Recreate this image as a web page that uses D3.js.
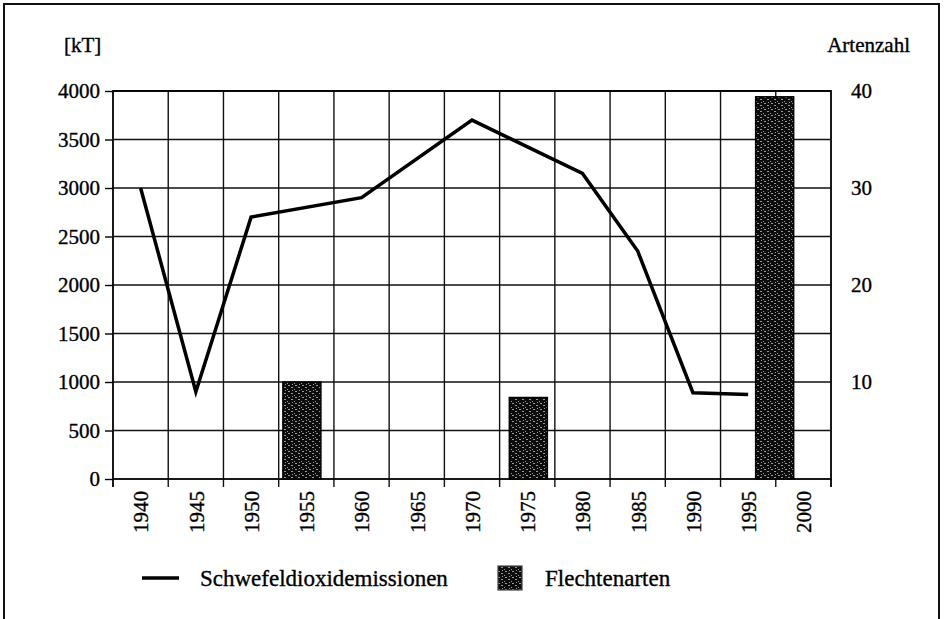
<!DOCTYPE html>
<html>
<head>
<meta charset="utf-8">
<script src="https://cdn.jsdelivr.net/npm/d3@7"></script>
<style>
  body { margin: 0; background: #fff; }
  svg { display: block; }
  svg text { font-family: "Liberation Serif", "Times New Roman", serif; fill: #000; stroke: #000; stroke-width: 0.35px; }
</style>
</head>
<body>
<svg id="chart" width="944" height="619"></svg>
<script>
// ==========
// DATA
// ==========
// category years on the x axis
var years = [1940, 1945, 1950, 1955, 1960, 1965, 1970, 1975, 1980, 1985, 1990, 1995, 2000];

// Schwefeldioxidemissionen [kT], read at the line's corners
var so2Years = [1940, 1945, 1950, 1960, 1970, 1980, 1985, 1990, 1995];
var so2Values = [3000, 900, 2700, 2900, 3700, 3150, 2350, 890, 870];

// Flechtenarten (Artenzahl); bar positions
var lichenYears = [1954.6, 1975.1, 1997.4];
var lichenValues = [10, 8.4, 39.4];

var leftTicks = [0, 500, 1000, 1500, 2000, 2500, 3000, 3500, 4000];
var rightTicks = [10, 20, 30, 40];

// ==========
// MAIN
// ==========
var svg = d3.select("#chart");

var plot = { left: 113, right: 831, top: 91, bottom: 479 };

var x = d3.scaleLinear().domain([1937.5, 2002.5]).range([plot.left, plot.right]);
var yL = d3.scaleLinear().domain([0, 4000]).range([plot.bottom, plot.top]);
var yR = d3.scaleLinear().domain([0, 40]).range([plot.bottom, plot.top]);

// band boundaries between the year categories
var bounds = years.slice(0, -1).map(function (d) { return d + 2.5; });

// speckled fill for the bars
var defs = svg.append("defs");
var pat = defs.append("pattern")
  .attr("id", "speckle")
  .attr("patternUnits", "userSpaceOnUse")
  .attr("width", 7)
  .attr("height", 6);
pat.append("rect").attr("width", 7).attr("height", 6).attr("fill", "#0c0c0c");
[[1, 1, 2, 1], [4, 3, 2, 1], [0, 5, 1, 1], [5, 0, 1, 1]].forEach(function (r) {
  pat.append("rect")
    .attr("x", r[0]).attr("y", r[1]).attr("width", r[2]).attr("height", r[3])
    .attr("fill", "#9a9a9a");
});

// outer frame
svg.append("rect")
  .attr("x", 4).attr("y", 4)
  .attr("width", 935).attr("height", 640)
  .attr("fill", "none")
  .attr("stroke", "#111")
  .attr("stroke-width", 2);

// horizontal grid
svg.append("g")
  .selectAll("line")
  .data(leftTicks.slice(1))
  .enter().append("line")
  .attr("x1", plot.left).attr("x2", plot.right)
  .attr("y1", function (d) { return yL(d); })
  .attr("y2", function (d) { return yL(d); })
  .attr("stroke", "#111")
  .attr("stroke-width", 1.4);

// vertical grid + ticks below the axis
svg.append("g")
  .selectAll("line")
  .data(bounds)
  .enter().append("line")
  .attr("x1", function (d) { return x(d); })
  .attr("x2", function (d) { return x(d); })
  .attr("y1", plot.top)
  .attr("y2", plot.bottom + 8)
  .attr("stroke", "#111")
  .attr("stroke-width", 1.4);

// bars (right axis)
var barW = 38;
svg.append("g")
  .selectAll("rect")
  .data(lichenYears)
  .enter().append("rect")
  .attr("x", function (d) { return x(d) - barW / 2; })
  .attr("y", function (d, i) { return yR(lichenValues[i]); })
  .attr("width", barW)
  .attr("height", function (d, i) { return plot.bottom - yR(lichenValues[i]); })
  .attr("fill", "url(#speckle)")
  .attr("stroke", "#000")
  .attr("stroke-width", 1.5);

// plot border
svg.append("rect")
  .attr("x", plot.left).attr("y", plot.top)
  .attr("width", plot.right - plot.left)
  .attr("height", plot.bottom - plot.top)
  .attr("fill", "none")
  .attr("stroke", "#000")
  .attr("stroke-width", 1.8);

// edge ticks below the axis
svg.append("g")
  .selectAll("line")
  .data([plot.left, plot.right])
  .enter().append("line")
  .attr("x1", function (d) { return d; })
  .attr("x2", function (d) { return d; })
  .attr("y1", plot.bottom)
  .attr("y2", plot.bottom + 8)
  .attr("stroke", "#000")
  .attr("stroke-width", 1.8);

// SO2 line
var line = d3.line()
  .x(function (d) { return x(d[0]); })
  .y(function (d) { return yL(d[1]); });

svg.append("path")
  .datum(d3.zip(so2Years, so2Values))
  .attr("d", line)
  .attr("fill", "none")
  .attr("stroke", "#000")
  .attr("stroke-width", 3.5)
  .attr("stroke-linejoin", "miter");

// left axis
var axL = svg.append("g")
  .attr("transform", "translate(" + plot.left + ",0)")
  .call(d3.axisLeft(yL).tickValues(leftTicks).tickFormat(d3.format("d"))
    .tickSize(8).tickSizeOuter(0).tickPadding(5));
axL.select(".domain").remove();
axL.selectAll("line").attr("stroke", "#000").attr("stroke-width", 1.4);
axL.selectAll("text").style("font-size", "21px");

// right axis
var axR = svg.append("g")
  .attr("transform", "translate(" + plot.right + ",0)")
  .call(d3.axisRight(yR).tickValues(rightTicks).tickSize(0).tickPadding(20));
axR.select(".domain").remove();
axR.selectAll("text").style("font-size", "21px");

// bottom axis labels (rotated)
var axB = svg.append("g")
  .attr("transform", "translate(0," + plot.bottom + ")")
  .call(d3.axisBottom(x).tickValues(years).tickSize(0).tickFormat(d3.format("d")));
axB.select(".domain").remove();
axB.selectAll("text")
  .style("font-size", "21px")
  .attr("transform", "rotate(-90)")
  .attr("x", -12)
  .attr("y", 0)
  .attr("dy", "0.35em")
  .style("text-anchor", "end");

// axis titles
svg.append("text")
  .attr("x", 64).attr("y", 52)
  .style("font-size", "21px")
  .text("[kT]");

svg.append("text")
  .attr("x", 910).attr("y", 52)
  .style("font-size", "21px")
  .attr("text-anchor", "end")
  .text("Artenzahl");

// legend
var leg = svg.append("g");
leg.append("line")
  .attr("x1", 142).attr("x2", 179)
  .attr("y1", 578).attr("y2", 578)
  .attr("stroke", "#000")
  .attr("stroke-width", 3.5);
leg.append("text")
  .attr("x", 200).attr("y", 586)
  .style("font-size", "23px")
  .text("Schwefeldioxidemissionen");
leg.append("rect")
  .attr("x", 498).attr("y", 566)
  .attr("width", 24).attr("height", 24)
  .attr("fill", "url(#speckle)")
  .attr("stroke", "#444")
  .attr("stroke-width", 1.2);
leg.append("text")
  .attr("x", 545).attr("y", 586)
  .style("font-size", "23px")
  .text("Flechtenarten");
</script>
</body>
</html>
